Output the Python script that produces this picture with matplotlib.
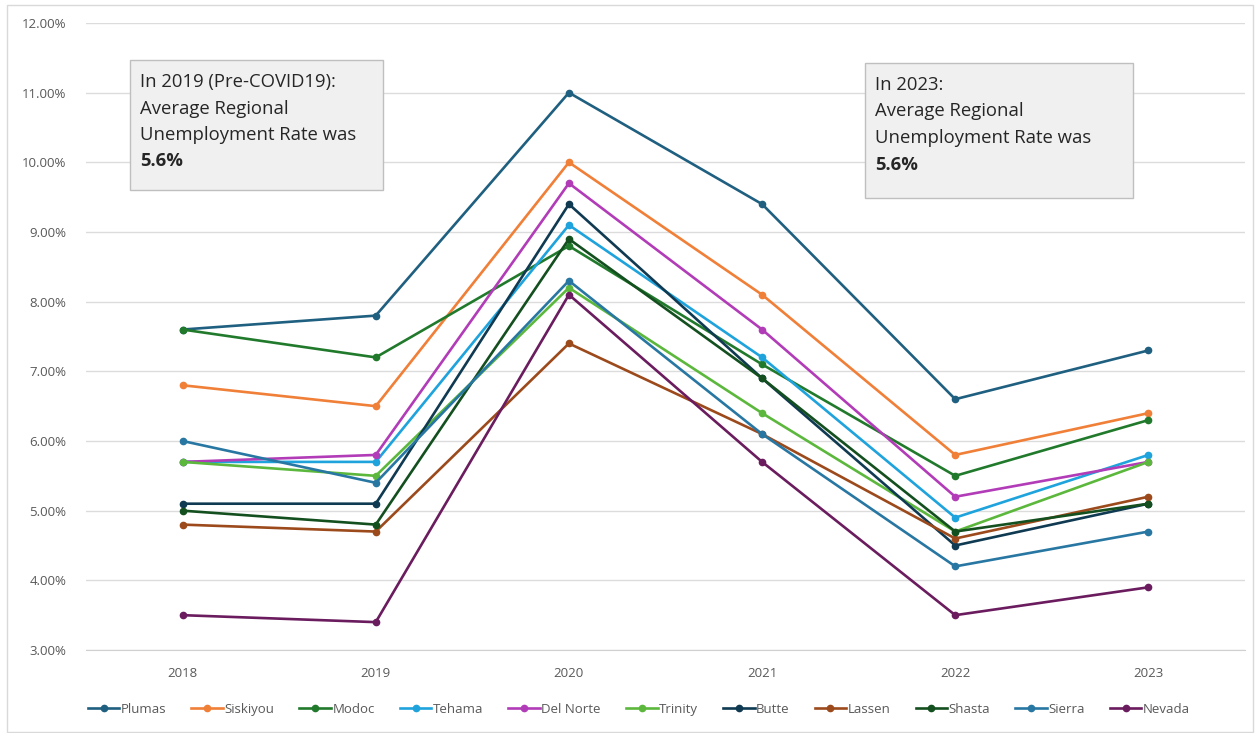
import matplotlib
matplotlib.use("Agg")
import matplotlib.pyplot as plt
from matplotlib.patches import Rectangle
from matplotlib.ticker import FuncFormatter

years = ["2018", "2019", "2020", "2021", "2022", "2023"]

plumas = [7.6, 7.8, 11.0, 9.4, 6.6, 7.3]
siskiyou = [6.8, 6.5, 10.0, 8.1, 5.8, 6.4]
modoc = [7.6, 7.2, 8.8, 7.1, 5.5, 6.3]
tehama = [5.7, 5.7, 9.1, 7.2, 4.9, 5.8]
del_norte = [5.7, 5.8, 9.7, 7.6, 5.2, 5.7]
trinity = [5.7, 5.5, 8.2, 6.4, 4.7, 5.7]
butte = [5.1, 5.1, 9.4, 6.9, 4.5, 5.1]
lassen = [4.8, 4.7, 7.4, 6.1, 4.6, 5.2]
shasta = [5.0, 4.8, 8.9, 6.9, 4.7, 5.1]
sierra = [6.0, 5.4, 8.3, 6.1, 4.2, 4.7]
nevada = [3.5, 3.4, 8.1, 5.7, 3.5, 3.9]

counties = ["Plumas", "Siskiyou", "Modoc", "Tehama", "Del Norte", "Trinity",
            "Butte", "Lassen", "Shasta", "Sierra", "Nevada"]
rates = [plumas, siskiyou, modoc, tehama, del_norte, trinity,
         butte, lassen, shasta, sierra, nevada]
colors = ["#1f5f80", "#f07f38", "#217a2c", "#1ea3dc", "#b23cb8", "#5cb83c",
          "#0f3a52", "#9c4a1c", "#14501f", "#2877a3", "#6a1c5e"]

note_2019 = ["In 2019 (Pre-COVID19):", "Average Regional", "Unemployment Rate was", "5.6%"]
note_2023 = ["In 2023:", "Average Regional", "Unemployment Rate was", "5.6%"]

plt.rcParams["font.family"] = ["Open Sans", "DejaVu Sans"]

fig = plt.figure(figsize=(12.6, 7.33), dpi=100)
ax = fig.add_axes([86 / 1260, 1 - 650 / 733, (1245 - 86) / 1260, (650 - 23) / 733])

x = list(range(len(years)))
for name, vals, c in zip(counties, rates, colors):
    ax.plot(x, [v / 100 for v in vals], color=c, lw=1.9, marker="o", ms=4.5,
            label=name, solid_joinstyle="round")

ax.set_xlim(-0.5, len(years) - 0.5)
ax.set_ylim(0.03, 0.12)
ax.set_yticks([i / 100 for i in range(3, 13)])
ax.yaxis.set_major_formatter(FuncFormatter(lambda v, p: f"{v * 100:.2f}%"))
ax.set_xticks(x)
ax.set_xticklabels(years)
ax.grid(axis="y", color="#dcdcdc", lw=1)
ax.set_axisbelow(True)
for s in ["top", "right", "left"]:
    ax.spines[s].set_visible(False)
ax.spines["bottom"].set_color("#d0d0d0")
ax.tick_params(axis="both", length=0, labelsize=9.5, labelcolor="#595959")
ax.tick_params(axis="y", pad=14)
ax.tick_params(axis="x", pad=12)

leg = ax.legend(loc="upper center", bbox_to_anchor=(0.477, -0.065), ncol=11,
                frameon=False, fontsize=9.5, handlelength=2.4, handletextpad=0.1,
                columnspacing=1.9)
for t in leg.get_texts():
    t.set_color("#595959")


def note(x0, y0, w, h, lines):
    fig.patches.append(Rectangle((x0 / 1260, 1 - (y0 + h) / 733), w / 1260, h / 733,
                                 transform=fig.transFigure, facecolor="#f0f0f0",
                                 edgecolor="#bfbfbf", lw=1, zorder=5))
    for i, line in enumerate(lines):
        fig.text((x0 + 10) / 1260, 1 - (y0 + 22 + i * 26.5) / 733, line,
                 fontsize=13.3, color="#262626", va="center", zorder=6,
                 fontweight="bold" if i == len(lines) - 1 else "normal")


note(130, 60, 253, 130, note_2019)
note(865, 63, 268, 135, note_2023)

fig.patches.append(Rectangle((7 / 1260, 1 / 733), 1246 / 1260, 727 / 733,
                             transform=fig.transFigure, facecolor="none",
                             edgecolor="#d9d9d9", lw=1))

fig.savefig("out.png", dpi=100)
